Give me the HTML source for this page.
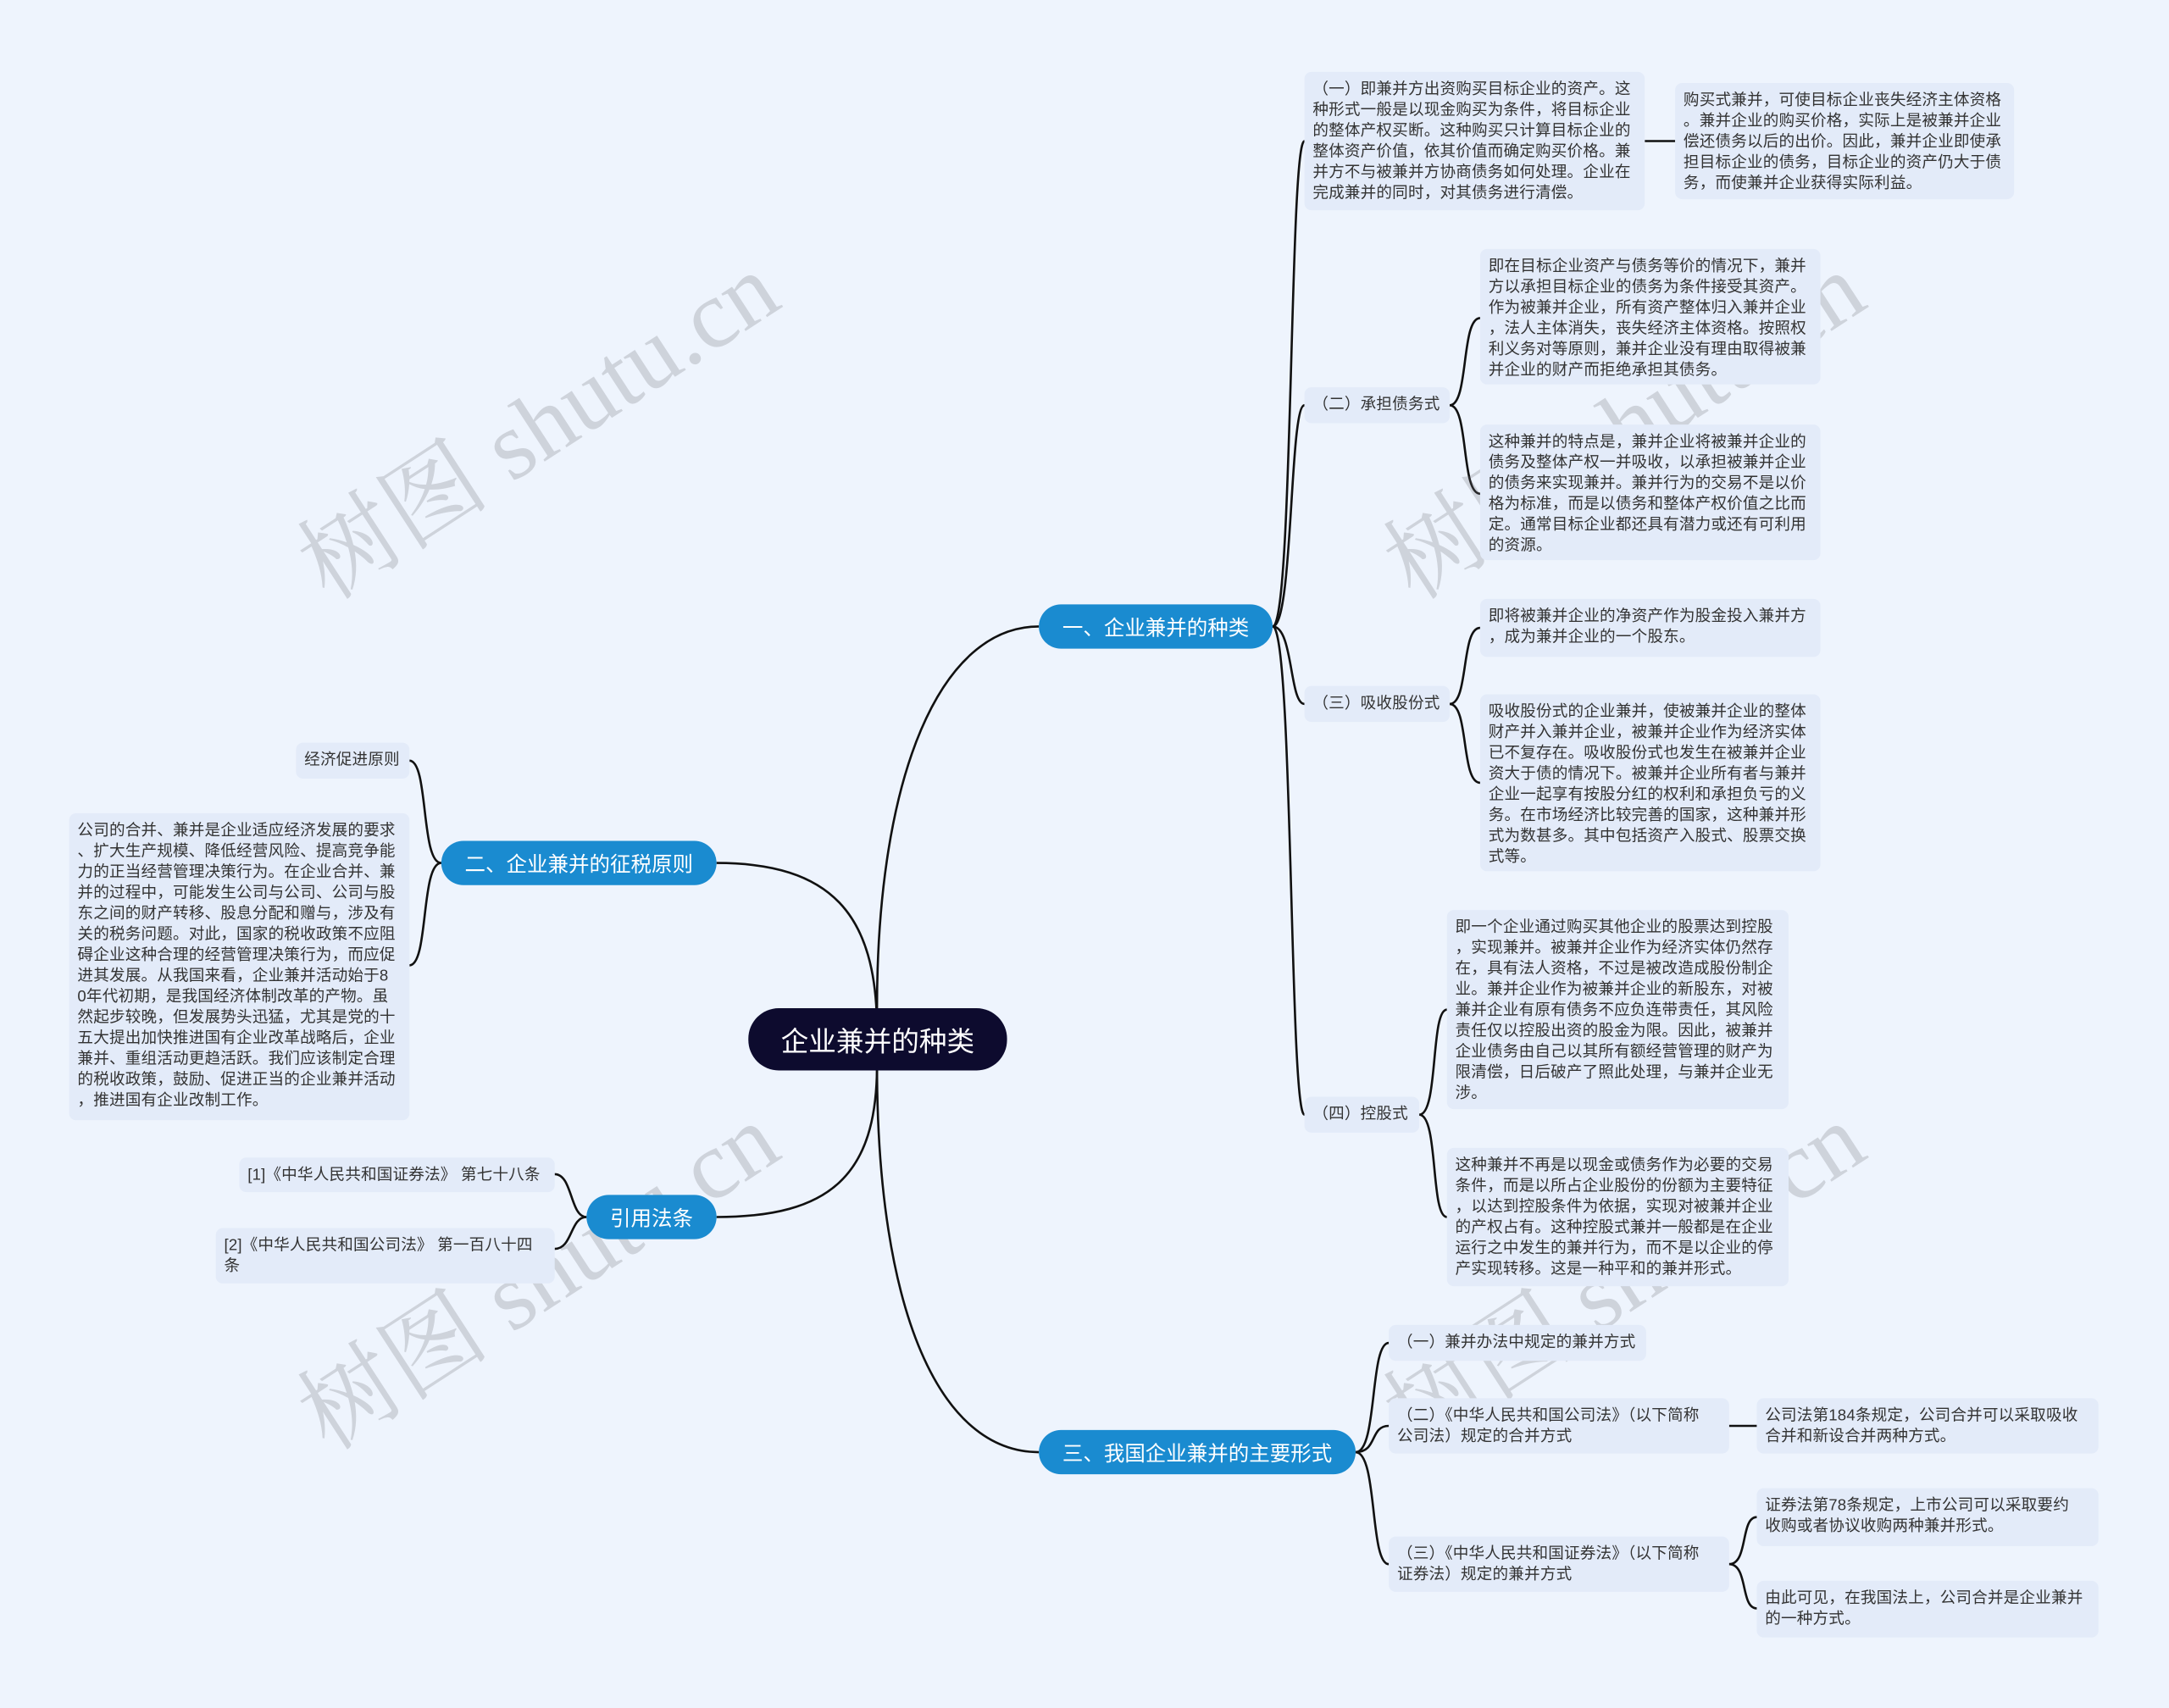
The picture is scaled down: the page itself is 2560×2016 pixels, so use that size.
<!DOCTYPE html>
<html><head><meta charset="utf-8"><style>
html,body{margin:0;padding:0;background:#eef4fd;}
#w{width:1568px;height:1235px;position:relative;transform:scale(1.63265,1.63239);transform-origin:0 0;overflow:hidden;font-family:"Liberation Sans","Noto Sans CJK SC",sans-serif;}
.b{position:absolute;background:#e3ebf9;border-radius:5px;font-size:11.4px;line-height:15px;color:#333;padding:6px 6px;box-sizing:border-box;white-space:nowrap;letter-spacing:0.1px;}
.m{position:absolute;background:#1a8bd0;color:#fff;border-radius:16px;font-size:15px;display:flex;align-items:center;justify-content:center;}
.wm{position:absolute;font-size:70px;color:rgba(110,110,120,0.25);transform:rotate(-33deg);transform-origin:0 0;white-space:nowrap;font-family:"Liberation Serif","Noto Serif CJK SC",serif;}
svg{position:absolute;left:0;top:0;}
</style></head><body><div id="w">
<svg width="1568" height="1235" fill="none" stroke="#111" stroke-width="1.6">
<path d="M634,729 C634,560 680,453 751,453"/>
<path d="M634,745 C634,660 600,624 518,624"/>
<path d="M634,770 C634,850 600,880 518,880"/>
<path d="M634,770 C634,950 680,1050 751,1050"/>
<path d="M920,453 C935,453 932,102 943,102"/>
<path d="M920,453 C935,453 932,293 943,293"/>
<path d="M920,453 C935,453 932,509 943,509"/>
<path d="M920,453 C935,453 932,806 943,806"/>
<path d="M1189,102 H1211"/>
<path d="M1048,293 C1062,293 1056,230 1070,230"/>
<path d="M1048,293 C1062,293 1056,357 1070,357"/>
<path d="M1048,509 C1062,509 1056,454 1070,454"/>
<path d="M1048,509 C1062,509 1056,566 1070,566"/>
<path d="M1026,806 C1040,806 1034,730 1046,730"/>
<path d="M1026,806 C1040,806 1034,880 1046,880"/>
<path d="M980,1050 C996,1050 990,971 1004,971"/>
<path d="M980,1050 C996,1050 990,1031 1004,1031"/>
<path d="M980,1050 C996,1050 990,1131 1004,1131"/>
<path d="M1250,1031 H1270"/>
<path d="M1250,1131 C1264,1131 1258,1097 1270,1097"/>
<path d="M1250,1131 C1264,1131 1258,1163 1270,1163"/>
<path d="M319,624 C304,624 310,550 296,550"/>
<path d="M319,624 C304,624 310,698 296,698"/>
<path d="M424,880 C412,880 414,849 401,849"/>
<path d="M424,880 C412,880 414,903 401,903"/>
</svg>
<div class="wm" style="left:194px;top:368px">树图 shutu.cn</div>
<div class="wm" style="left:979px;top:368px">树图 shutu.cn</div>
<div class="wm" style="left:194px;top:983px">树图 shutu.cn</div>
<div class="wm" style="left:979px;top:983px">树图 shutu.cn</div>

<div class="m" style="left:541px;top:729px;width:187px;height:45px;background:#0d0b2e;border-radius:22px;font-size:20px">企业兼并的种类</div>
<div class="m" style="left:751px;top:437px;width:169px;height:32px">一、企业兼并的种类</div>
<div class="m" style="left:319px;top:608px;width:199px;height:32px">二、企业兼并的征税原则</div>
<div class="m" style="left:424px;top:864px;width:94px;height:32px">引用法条</div>
<div class="m" style="left:751px;top:1034px;width:229px;height:32px">三、我国企业兼并的主要形式</div>

<div class="b" style="left:943px;top:52px;width:246px;height:100px">（一）即兼并方出资购买目标企业的资产。这<br>种形式一般是以现金购买为条件，将目标企业<br>的整体产权买断。这种购买只计算目标企业的<br>整体资产价值，依其价值而确定购买价格。兼<br>并方不与被兼并方协商债务如何处理。企业在<br>完成兼并的同时，对其债务进行清偿。</div>
<div class="b" style="left:1211px;top:60px;width:245px;height:84px">购买式兼并，可使目标企业丧失经济主体资格<br>。兼并企业的购买价格，实际上是被兼并企业<br>偿还债务以后的出价。因此，兼并企业即使承<br>担目标企业的债务，目标企业的资产仍大于债<br>务，而使兼并企业获得实际利益。</div>
<div class="b" style="left:943px;top:280px;width:105px;height:26px">（二）承担债务式</div>
<div class="b" style="left:1070px;top:180px;width:246px;height:98px">即在目标企业资产与债务等价的情况下，兼并<br>方以承担目标企业的债务为条件接受其资产。<br>作为被兼并企业，所有资产整体归入兼并企业<br>，法人主体消失，丧失经济主体资格。按照权<br>利义务对等原则，兼并企业没有理由取得被兼<br>并企业的财产而拒绝承担其债务。</div>
<div class="b" style="left:1070px;top:307px;width:246px;height:98px">这种兼并的特点是，兼并企业将被兼并企业的<br>债务及整体产权一并吸收，以承担被兼并企业<br>的债务来实现兼并。兼并行为的交易不是以价<br>格为标准，而是以债务和整体产权价值之比而<br>定。通常目标企业都还具有潜力或还有可利用<br>的资源。</div>
<div class="b" style="left:943px;top:496px;width:105px;height:26px">（三）吸收股份式</div>
<div class="b" style="left:1070px;top:433px;width:246px;height:42px">即将被兼并企业的净资产作为股金投入兼并方<br>，成为兼并企业的一个股东。</div>
<div class="b" style="left:1070px;top:502px;width:246px;height:128px">吸收股份式的企业兼并，使被兼并企业的整体<br>财产并入兼并企业，被兼并企业作为经济实体<br>已不复存在。吸收股份式也发生在被兼并企业<br>资大于债的情况下。被兼并企业所有者与兼并<br>企业一起享有按股分红的权利和承担负亏的义<br>务。在市场经济比较完善的国家，这种兼并形<br>式为数甚多。其中包括资产入股式、股票交换<br>式等。</div>
<div class="b" style="left:943px;top:793px;width:83px;height:26px">（四）控股式</div>
<div class="b" style="left:1046px;top:658px;width:247px;height:144px">即一个企业通过购买其他企业的股票达到控股<br>，实现兼并。被兼并企业作为经济实体仍然存<br>在，具有法人资格，不过是被改造成股份制企<br>业。兼并企业作为被兼并企业的新股东，对被<br>兼并企业有原有债务不应负连带责任，其风险<br>责任仅以控股出资的股金为限。因此，被兼并<br>企业债务由自己以其所有额经营管理的财产为<br>限清偿，日后破产了照此处理，与兼并企业无<br>涉。</div>
<div class="b" style="left:1046px;top:830px;width:247px;height:100px">这种兼并不再是以现金或债务作为必要的交易<br>条件，而是以所占企业股份的份额为主要特征<br>，以达到控股条件为依据，实现对被兼并企业<br>的产权占有。这种控股式兼并一般都是在企业<br>运行之中发生的兼并行为，而不是以企业的停<br>产实现转移。这是一种平和的兼并形式。</div>

<div class="b" style="left:1004px;top:958px;width:186px;height:26px">（一）兼并办法中规定的兼并方式</div>
<div class="b" style="left:1004px;top:1011px;width:246px;height:40px">（二）《中华人民共和国公司法》（以下简称<br>公司法）规定的合并方式</div>
<div class="b" style="left:1270px;top:1011px;width:247px;height:40px">公司法第184条规定，公司合并可以采取吸收<br>合并和新设合并两种方式。</div>
<div class="b" style="left:1004px;top:1111px;width:246px;height:40px">（三）《中华人民共和国证券法》（以下简称<br>证券法）规定的兼并方式</div>
<div class="b" style="left:1270px;top:1076px;width:247px;height:42px">证券法第78条规定，上市公司可以采取要约<br>收购或者协议收购两种兼并形式。</div>
<div class="b" style="left:1270px;top:1143px;width:247px;height:41px">由此可见，在我国法上，公司合并是企业兼并<br>的一种方式。</div>

<div class="b" style="left:214px;top:537px;width:82px;height:26px">经济促进原则</div>
<div class="b" style="left:50px;top:588px;width:246px;height:222px">公司的合并、兼并是企业适应经济发展的要求<br>、扩大生产规模、降低经营风险、提高竞争能<br>力的正当经营管理决策行为。在企业合并、兼<br>并的过程中，可能发生公司与公司、公司与股<br>东之间的财产转移、股息分配和赠与，涉及有<br>关的税务问题。对此，国家的税收政策不应阻<br>碍企业这种合理的经营管理决策行为，而应促<br>进其发展。从我国来看，企业兼并活动始于8<br>0年代初期，是我国经济体制改革的产物。虽<br>然起步较晚，但发展势头迅猛，尤其是党的十<br>五大提出加快推进国有企业改革战略后，企业<br>兼并、重组活动更趋活跃。我们应该制定合理<br>的税收政策，鼓励、促进正当的企业兼并活动<br>，推进国有企业改制工作。</div>
<div class="b" style="left:173px;top:837px;width:228px;height:25px">[1]《中华人民共和国证券法》 第七十八条</div>
<div class="b" style="left:156px;top:888px;width:245px;height:40px">[2]《中华人民共和国公司法》 第一百八十四<br>条</div>
</div></body></html>
